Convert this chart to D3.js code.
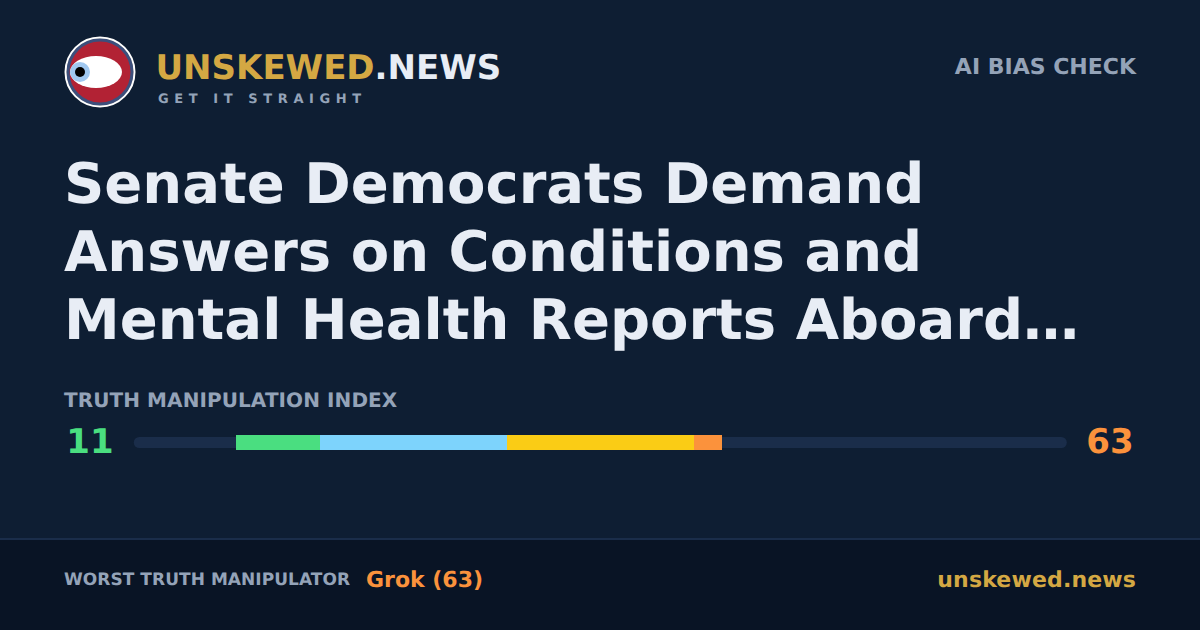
<!DOCTYPE html>
<html>
<head>
<meta charset="utf-8">
<script src="https://cdn.jsdelivr.net/npm/d3@7"></script>
<style>
  html, body { margin: 0; padding: 0; background: #0e1e33; overflow: hidden; }
  text { font-family: "DejaVu Sans", sans-serif; font-weight: 700; text-rendering: geometricPrecision; }
</style>
</head>
<body>
<script>
// Index bands
const bandStarts = [11, 20, 40, 60];
const bandEnds = [20, 40, 60, 63];
const bandColors = ['#4ade80', '#7dd3fc', '#facc15', '#fb923c'];
const scoreLow = 11;
const scoreHigh = 63;
const headline = [
  'Senate Democrats Demand',
  'Answers on Conditions and',
  'Mental Health Reports Aboard…'
];

const svg = d3.select('body')
  .append('svg')
  .attr('width', 1200)
  .attr('height', 630)
  .style('display', 'block');

// Background and footer
svg.append('rect').attr('width', 1200).attr('height', 630).attr('fill', '#0e1e33');
svg.append('rect').attr('y', 540).attr('width', 1200).attr('height', 90).attr('fill', '#091425');
svg.append('rect').attr('y', 538).attr('width', 1200).attr('height', 2).attr('fill', '#1a2d4a');

// Logo
const logo = svg.append('g').attr('transform', 'translate(100,72)');
logo.append('circle').attr('r', 32).attr('fill', '#b22234').attr('stroke', '#3c4f7c').attr('stroke-width', 3);
logo.append('circle').attr('r', 34.5).attr('fill', 'none').attr('stroke', '#ffffff').attr('stroke-width', 2);
logo.append('ellipse').attr('cx', -4).attr('rx', 26).attr('ry', 16).attr('fill', '#ffffff');
logo.append('circle').attr('cx', -20).attr('r', 10).attr('fill', '#a0c8f0');
logo.append('circle').attr('cx', -20).attr('r', 5).attr('fill', '#000000');

// Header text
const brand = svg.append('text').attr('x', 155.5).attr('y', 79).attr('font-size', 34);
brand.append('tspan').attr('fill', '#d4a843').text('UNSKEWED');
brand.append('tspan').attr('fill', '#e8edf5').text('.NEWS');

svg.append('text').attr('x', 158).attr('y', 103)
  .attr('font-size', 13).attr('letter-spacing', 5.6).attr('fill', '#94a3b8')
  .style('white-space', 'pre')
  .text('GET IT STRAIGHT');

svg.append('text').attr('x', 1136).attr('y', 74).attr('text-anchor', 'end')
  .attr('font-size', 22).attr('fill', '#94a3b8')
  .text('AI BIAS CHECK');

// Headline
svg.selectAll('.headline')
  .data(headline)
  .enter()
  .append('text')
  .attr('class', 'headline')
  .attr('x', 64)
  .attr('y', (d, i) => 203 + i * 68)
  .attr('font-size', 56)
  .attr('fill', '#e8edf5')
  .text(d => d);

svg.append('text').attr('x', 64).attr('y', 407)
  .attr('font-size', 20).attr('letter-spacing', 0.08).attr('fill', '#94a3b8')
  .text('TRUTH MANIPULATION INDEX');

// Index bar
const xScale = d3.scaleLinear().domain([0, 100]).range([133.8, 1066.8]);
const color = d3.scaleOrdinal().domain(bandStarts).range(bandColors);

svg.append('rect')
  .attr('x', xScale(0)).attr('y', 437)
  .attr('width', xScale(100) - xScale(0)).attr('height', 11)
  .attr('rx', 5.5)
  .attr('fill', '#1a2d4a');

svg.selectAll('.band')
  .data(bandStarts)
  .enter()
  .append('rect')
  .attr('class', 'band')
  .attr('x', d => xScale(d))
  .attr('y', 435)
  .attr('width', (d, i) => xScale(bandEnds[i]) - xScale(d))
  .attr('height', 15)
  .attr('shape-rendering', 'crispEdges')
  .attr('fill', d => color(d));

svg.append('text').attr('x', 90).attr('y', 452.5).attr('text-anchor', 'middle')
  .attr('font-size', 34).attr('fill', bandColors[0]).text(scoreLow);
svg.append('text').attr('x', 1110).attr('y', 452.5).attr('text-anchor', 'middle')
  .attr('font-size', 34).attr('fill', bandColors[3]).text(scoreHigh);

// Footer text
svg.append('text').attr('x', 64).attr('y', 584.5)
  .attr('font-size', 17).attr('letter-spacing', 0.05).attr('fill', '#94a3b8')
  .text('WORST TRUTH MANIPULATOR');
svg.append('text').attr('x', 366).attr('y', 586.5)
  .attr('font-size', 22).attr('fill', bandColors[3])
  .text(`Grok (${scoreHigh})`);
svg.append('text').attr('x', 1136).attr('y', 586.5).attr('text-anchor', 'end')
  .attr('font-size', 22).attr('letter-spacing', 0.15).attr('fill', '#d4a843')
  .text('unskewed.news');
</script>
</body>
</html>
